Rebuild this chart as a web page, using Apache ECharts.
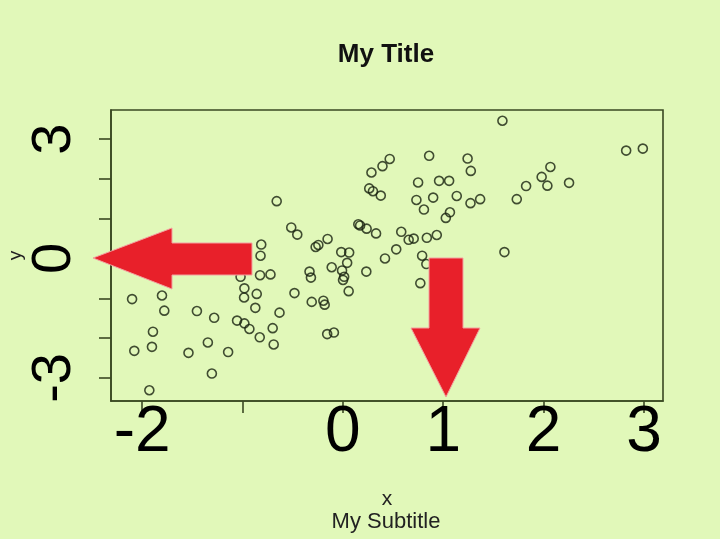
<!DOCTYPE html>
<html>
<head>
<meta charset="utf-8">
<script src="https://cdn.jsdelivr.net/npm/echarts@6/dist/echarts.min.js"></script>
<style>
   html, body { margin: 0 ; padding: 0 ; background: #e1f8b9 ; }
   #Chart { width: 720px ; height: 539px ; }
</style>
</head>
<body>
<div id="Chart"></div>
<script>
//散点数据
var pointX = [ 0.467, 0.395, 0.285, -0.659, 0.263, 0.300, 0.378, -0.514, -0.454, 0.154, 0.172, 0.237, 0.331, 0.582, 0.532, 0.420,
               -0.813, -0.820, -0.271, -0.244, -0.152, -0.016, 0.063, 0.043, -0.111, -0.008, 0.013, 0.002, 0.058, 0.234, -0.332, -0.318,
               -0.482, -0.310, -0.194, -0.181, -0.156, -0.089, -1.019, -0.825, -0.721, -0.981, -0.984, -0.858, -0.872, -0.631, -1.054, -0.981,
               -0.931, -0.828, -0.699, -0.689, -2.100, -1.802, -1.779, -1.454, -1.282, -1.892, -1.902, -2.078, -1.538, -1.345, -1.143, -1.305,
               -1.928, 1.590, 2.823, 2.989, 0.860, 1.243, 1.275, 0.750, 0.959, 1.059, 0.733, 0.900, 1.135, 1.272, 1.368, 0.808,
               1.067, 1.026, 1.733, 1.826, 1.981, 2.068, 2.038, 2.254, 0.656, 0.706, 0.837, 0.936, 0.790, 0.832, 0.772, 1.610 ] ;
var pointY = [ 2.50, 2.32, 2.16, 1.44, 1.76, 1.69, 1.58, 0.78, 0.60, 0.86, 0.83, 0.75, 0.63, 0.67, 0.23, 0.00,
               0.35, 0.07, 0.29, 0.34, 0.49, 0.16, 0.15, -0.11, -0.22, -0.30, -0.46, -0.54, -0.82, -0.33, -0.33, -0.48,
               -0.87, -1.09, -1.06, -1.16, -1.90, -1.86, -0.46, -0.42, -0.40, -0.75, -0.98, -0.89, -1.24, -1.36, -1.56, -1.63,
               -1.77, -1.98, -1.75, -2.16, -1.02, -0.93, -1.31, -1.32, -1.49, -1.84, -2.22, -2.32, -2.37, -2.11, -2.35, -2.89,
               -3.31, 3.46, 2.71, 2.76, 2.58, 2.51, 2.20, 1.91, 1.95, 1.95, 1.47, 1.53, 1.57, 1.39, 1.49, 1.23,
               1.16, 1.02, 1.49, 1.82, 2.05, 2.30, 1.83, 1.90, 0.47, 0.50, 0.52, 0.59, 0.07, -0.14, -0.62, 0.16 ] ;
//刻度
var xTickValues = [ -2, -1, 0, 1, 2, 3 ] ;
var xLabelValues = [ -2, 0, 1, 2, 3 ] ;
var yTickValues = [ -3, -2, -1, 0, 1, 2, 3 ] ;
var yLabelValues = [ -3, 0, 3 ] ;

(function(){
   var frameColor = '#3a4822' ;
   var arrowColor = '#e8202a' ;
   var points = [] ;
   for( var i = 0; i < pointX.length; ++i )
   {
      points.push( [ pointX[i], pointY[i] ] ) ;
   }
   var chart = echarts.init( document.getElementById( 'Chart' ) ) ;
   var option = {
      backgroundColor: '#e1f8b9',
      animation: false,
      title: [
         { text: 'My Title', left: 386, top: 42, textAlign: 'center', padding: 0,
           textStyle: { fontFamily: 'Liberation Sans', fontSize: 26, fontWeight: 'bold', color: '#111' } },
         { text: 'My Subtitle', left: 386, top: 511, textAlign: 'center', padding: 0,
           textStyle: { fontFamily: 'Liberation Sans', fontSize: 22, fontWeight: 'normal', color: '#222' } }
      ],
      grid: { left: 111, top: 110, width: 552, height: 291, outerBoundsMode: 'none', containLabel: false,
              show: true, borderColor: frameColor, borderWidth: 1.6, backgroundColor: 'transparent' },
      xAxis: {
         type: 'value', min: -2.31, max: 3.19,
         name: 'x', nameLocation: 'middle', nameGap: 88, nameMoveOverlap: false,
         nameTextStyle: { fontFamily: 'Liberation Sans', fontSize: 21, color: '#222' },
         axisLine: { show: true, onZero: false, lineStyle: { color: frameColor, width: 1.6 } },
         axisTick: { show: true, length: 12, customValues: xTickValues, lineStyle: { color: frameColor, width: 1.6 } },
         axisLabel: { customValues: xLabelValues, margin: 0, fontFamily: 'Liberation Sans', fontSize: 64, color: '#000' },
         splitLine: { show: false }
      },
      yAxis: {
         type: 'value', min: -3.58, max: 3.73,
         name: 'y', nameLocation: 'middle', nameGap: 86, nameRotate: 90, nameMoveOverlap: false,
         nameTextStyle: { fontFamily: 'Liberation Sans', fontSize: 19, color: '#222' },
         axisLine: { show: true, onZero: false, lineStyle: { color: frameColor, width: 1.6 } },
         axisTick: { show: true, length: 12, customValues: yTickValues, lineStyle: { color: frameColor, width: 1.6 } },
         axisLabel: { customValues: yLabelValues, rotate: 90, margin: 28, fontFamily: 'Liberation Sans', fontSize: 56, color: '#000' },
         splitLine: { show: false }
      },
      series: [ {
         type: 'scatter',
         data: points,
         symbol: 'circle',
         symbolSize: 9,
         itemStyle: { color: 'rgba(0,0,0,0)', borderColor: '#18220f', borderWidth: 1.6 }
      } ],
      //红色箭头
      graphic: [
         { type: 'polygon', z: 100,
           shape: { points: [ [ 93, 258 ], [ 172, 228 ], [ 172, 243 ], [ 252, 243 ], [ 252, 275 ], [ 172, 275 ], [ 172, 289 ] ] },
           style: { fill: arrowColor, stroke: '#f3a0a0', lineWidth: 1 } },
         { type: 'polygon', z: 100,
           shape: { points: [ [ 429, 258 ], [ 463, 258 ], [ 463, 328 ], [ 480, 328 ], [ 446, 397 ], [ 411, 328 ], [ 429, 328 ] ] },
           style: { fill: arrowColor, stroke: '#f3a0a0', lineWidth: 1 } }
      ]
   } ;
   chart.setOption( option ) ;
}());
</script>
</body>
</html>
